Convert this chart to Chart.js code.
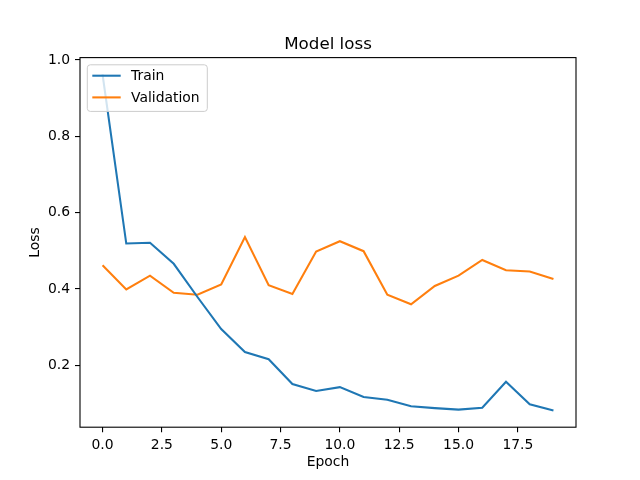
<!DOCTYPE html>
<html><head><meta charset="utf-8">
<script src="https://cdn.jsdelivr.net/npm/chart.js@4.4.0/dist/chart.umd.min.js"></script>
<style>html,body{margin:0;padding:0;background:#fff}#wrap{width:640px;height:480px;position:relative}</style>
</head><body><div id="wrap"><canvas id="c"></canvas></div>
<script>
const epochs = [0,1,2,3,4,5,6,7,8,9,10,11,12,13,14,15,16,17,18,19];
const trainLoss = [0.962,0.519,0.521,0.466,0.379,0.295,0.235,0.216,0.151,0.133,0.143,0.117,0.110,0.093,0.088,0.084,0.089,0.157,0.098,0.082];
const valLoss = [0.462,0.399,0.435,0.390,0.385,0.412,0.536,0.410,0.387,0.498,0.525,0.499,0.385,0.360,0.408,0.435,0.476,0.449,0.446,0.426];
const xTicks = [0,2.5,5,7.5,10,12.5,15,17.5];
const yTicks = [0.2,0.4,0.6,0.8,1.0];
const seriesNames = ['Train','Validation'];
const seriesColors = ['#1f77b4','#ff7f0e'];
const chartTitle = 'Model loss';

const FONT = 'DejaVu Sans';
const TICK_PX = 13.9;

function margins(arr){
  const mn = Math.min(...arr), mx = Math.max(...arr), r = mx - mn;
  return [mn - 0.05*r, mx + 0.05*r];
}
const [xMin, xMax] = margins(epochs);
const [yMin, yMax] = margins(trainLoss.concat(valLoss));

const framePlugin = {
  id: 'frame',
  afterDatasetsDraw(chart){
    const {ctx, chartArea:a} = chart;
    ctx.save();
    ctx.strokeStyle = '#000';
    ctx.lineWidth = 1.1;
    ctx.strokeRect(a.left, a.top, a.right - a.left, a.bottom - a.top);
    ctx.fillStyle = '#000';
    ctx.font = '16.7px "' + FONT + '"';
    ctx.textAlign = 'center';
    ctx.textBaseline = 'alphabetic';
    ctx.fillText(chartTitle, (a.left + a.right) / 2, a.top - 8.3);
    ctx.restore();
  }
};

const legendPlugin = {
  id: 'mplLegend',
  afterDraw(chart){
    const {ctx, chartArea:a} = chart;
    const x = a.left + 7.3, y = a.top + 7.2, w = 120, h = 46.6, r = 3;
    ctx.save();
    ctx.beginPath();
    ctx.moveTo(x + r, y);
    ctx.lineTo(x + w - r, y); ctx.quadraticCurveTo(x + w, y, x + w, y + r);
    ctx.lineTo(x + w, y + h - r); ctx.quadraticCurveTo(x + w, y + h, x + w - r, y + h);
    ctx.lineTo(x + r, y + h); ctx.quadraticCurveTo(x, y + h, x, y + h - r);
    ctx.lineTo(x, y + r); ctx.quadraticCurveTo(x, y, x + r, y);
    ctx.closePath();
    ctx.fillStyle = 'rgba(255,255,255,0.8)';
    ctx.fill();
    ctx.strokeStyle = '#cccccc';
    ctx.lineWidth = 1;
    ctx.stroke();
    ctx.font = TICK_PX + 'px "' + FONT + '"';
    ctx.textBaseline = 'middle';
    ctx.textAlign = 'left';
    chart.data.datasets.forEach((ds, i) => {
      const ry = y + 10.9 + i * 21.7;
      ctx.beginPath();
      ctx.moveTo(x + 5, ry);
      ctx.lineTo(x + 33.4, ry);
      ctx.strokeStyle = ds.borderColor;
      ctx.lineWidth = 2.08;
      ctx.stroke();
      ctx.fillStyle = '#000';
      ctx.fillText(ds.label, x + 43.7, ry + 0.8);
    });
    ctx.restore();
  }
};

const tickFont = {family: FONT, size: TICK_PX};

new Chart(document.getElementById('c'), {
  type: 'line',
  data: {
    datasets: [
      {label: seriesNames[0], data: epochs.map((e,i)=>({x:e, y:trainLoss[i]})), borderColor: seriesColors[0], backgroundColor: seriesColors[0], borderWidth: 2.08, pointRadius: 0, tension: 0, fill: false},
      {label: seriesNames[1], data: epochs.map((e,i)=>({x:e, y:valLoss[i]})), borderColor: seriesColors[1], backgroundColor: seriesColors[1], borderWidth: 2.08, pointRadius: 0, tension: 0, fill: false}
    ]
  },
  options: {
    responsive: true,
    maintainAspectRatio: false,
    animation: false,
    layout: {padding: {left: 0, right: 64, top: 57.6, bottom: 0}},
    plugins: {
      legend: {display: false},
      tooltip: {enabled: false},
      title: {display: false}
    },
    scales: {
      x: {
        type: 'linear', min: xMin, max: xMax,
        afterBuildTicks: s => { s.ticks = xTicks.map(v => ({value: v})); },
        afterFit: s => { s.height = 52.8; },
        grid: {display: true, drawOnChartArea: false, drawTicks: true, tickLength: 5, color: '#000', lineWidth: 1.1},
        border: {display: false},
        ticks: {color: '#000', font: tickFont, padding: 5, maxRotation: 0, autoSkip: false, callback: v => Number(v).toFixed(1)},
        title: {display: true, text: 'Epoch', color: '#000', font: {family: FONT, size: TICK_PX, lineHeight: 1.2}, padding: {top: 0, bottom: 9.7}}
      },
      y: {
        type: 'linear', min: yMin, max: yMax,
        afterBuildTicks: s => { s.ticks = yTicks.map(v => ({value: v})); },
        afterFit: s => { s.width = 80; },
        grid: {display: true, drawOnChartArea: false, drawTicks: true, tickLength: 5, color: '#000', lineWidth: 1.1},
        border: {display: false},
        ticks: {color: '#000', font: tickFont, padding: 5, autoSkip: false, callback: v => Number(v).toFixed(1)},
        title: {display: true, text: 'Loss', color: '#000', font: {family: FONT, size: TICK_PX, lineHeight: 1.2}, padding: {top: 27, bottom: 0}}
      }
    }
  },
  plugins: [framePlugin, legendPlugin]
});
</script>
</body></html>
